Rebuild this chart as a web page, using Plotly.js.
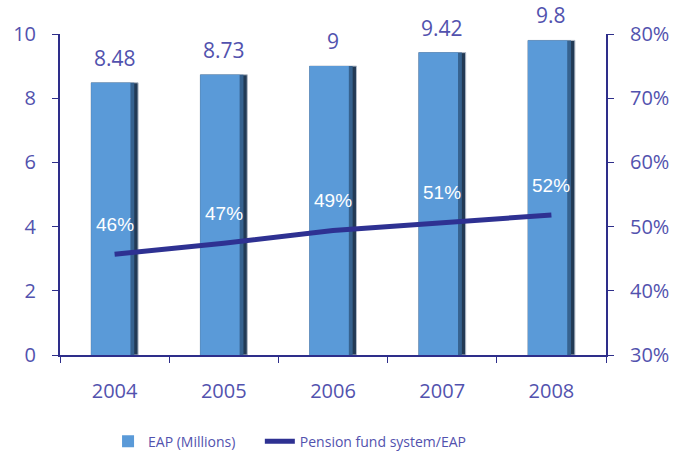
<!DOCTYPE html>
<html>
<head>
<meta charset="utf-8">
<script src="https://cdn.plot.ly/plotly-3.0.1.min.js"></script>
<style>html,body{margin:0;padding:0;background:#fff;}#chart{width:682px;height:455px;}</style>
</head>
<body>
<div id="chart"></div>
<script>
const years = ['2004', '2005', '2006', '2007', '2008'];
const eap = [8.48, 8.73, 9, 9.42, 9.8];
const eapLabels = ['8.48', '8.73', '9', '9.42', '9.8'];
const pension = [45.7, 47.4, 49.4, 50.6, 51.8];
const pensionLabels = ['46%', '47%', '49%', '51%', '52%'];

const txtColor = '#5252ae';
const axColor = '#2e2e8a';
const fontFam = '"Open Sans", "DejaVu Sans", sans-serif';

const barW = 0.43;
const traces = [
  {
    type: 'bar', x: years, y: eap, showlegend: false, width: barW, offset: -barW / 2,
    marker: {color: '#223a55', line: {color: '#b4bcc8', width: 1}},
    hoverinfo: 'none'
  },
  {
    type: 'bar', x: years, y: eap, showlegend: false, width: barW - 0.035, offset: -barW / 2,
    marker: {color: '#36628f', line: {width: 0}}, hoverinfo: 'none'
  },
  {
    type: 'bar', x: years, y: eap, name: 'EAP (Millions)', width: barW - 0.07, offset: -barW / 2,
    marker: {color: '#5a9ad8', line: {width: 0}}, hoverinfo: 'none', legend: 'legend'
  },
  {
    type: 'scatter', mode: 'lines', x: years, y: pension, yaxis: 'y2',
    name: 'Pension fund system/EAP', legend: 'legend2',
    line: {color: '#2e3192', width: 5}, hoverinfo: 'none'
  }
];

const annotations = [];
years.forEach((yr, i) => {
  annotations.push({x: i, y: eap[i], xref: 'x', yref: 'y', text: eapLabels[i],
    showarrow: false, yanchor: 'middle', yshift: 25,
    font: {family: fontFam, size: 21, color: txtColor}});
  annotations.push({x: i, y: pension[i], xref: 'x', yref: 'y2', text: pensionLabels[i],
    showarrow: false, yanchor: 'middle', yshift: 30,
    font: {family: 'Liberation Sans, Arial, sans-serif', size: 19, color: '#ffffff'}});
});

const legendFont = {family: fontFam, size: 14, color: txtColor};
const layout = {
  width: 682, height: 455,
  margin: {l: 60, r: 76, t: 34, b: 100, autoexpand: false},
  paper_bgcolor: '#ffffff', plot_bgcolor: '#ffffff',
  font: {family: fontFam, size: 20, color: txtColor},
  barmode: 'overlay',
  showlegend: true,
  legend: {orientation: 'h', x: 0.088, xanchor: 'left', y: -0.22, yanchor: 'top', font: legendFont},
  legend2: {orientation: 'h', x: 0.366, xanchor: 'left', y: -0.22, yanchor: 'top', font: legendFont},
  xaxis: {
    type: 'category', categoryarray: years, range: [-0.5, 4.5],
    tickson: 'boundaries', ticks: 'outside', ticklen: 6, ticklabelstandoff: 17,
    tickcolor: axColor, showline: true, linecolor: axColor, linewidth: 2,
    showgrid: false, tickfont: {size: 20, color: txtColor}
  },
  yaxis: {
    range: [0, 10], dtick: 2, ticks: 'outside', ticklen: 6, tickcolor: axColor,
    ticklabelstandoff: 12,
    showline: true, linecolor: axColor, linewidth: 2, showgrid: false, zeroline: false,
    tickfont: {size: 20, color: txtColor}
  },
  yaxis2: {
    overlaying: 'y', side: 'right', range: [30, 80], dtick: 10, ticksuffix: '%',
    ticks: 'outside', ticklen: 6, tickcolor: axColor, ticklabelstandoff: 12,
    showline: true, linecolor: axColor, linewidth: 2, showgrid: false, zeroline: false,
    tickfont: {size: 20, color: txtColor}
  },
  annotations: annotations
};

Plotly.newPlot('chart', traces, layout, {displayModeBar: false, staticPlot: true});
</script>
</body>
</html>
